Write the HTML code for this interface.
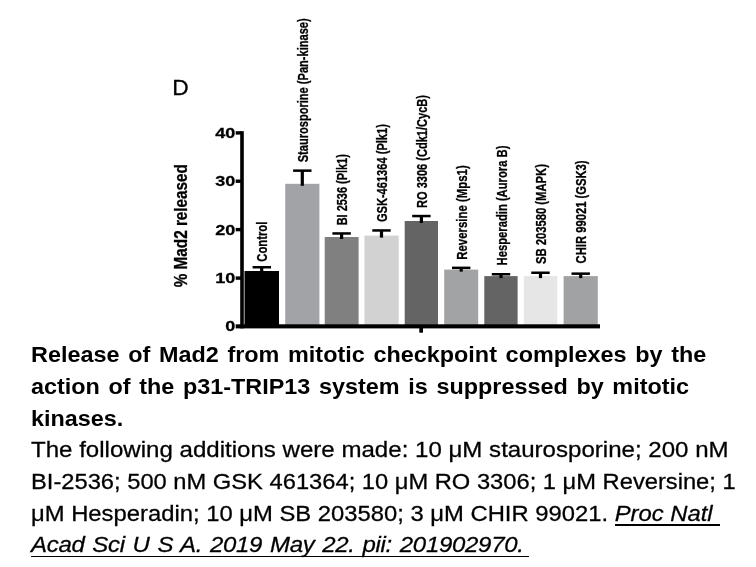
<!DOCTYPE html>
<html><head><meta charset="utf-8"><title>Mad2 release</title>
<style>
html,body{margin:0;padding:0;background:#fff;}
body{width:756px;height:567px;position:relative;overflow:hidden;font-family:"Liberation Sans",Arial,sans-serif;color:#000;}
.l{position:absolute;left:31px;white-space:nowrap;font-size:24px;line-height:30px;height:30px;transform-origin:0 0;transform:scale(1,0.93);}
.b{font-weight:bold;font-size:23.4px;word-spacing:2.2px;transform:scale(1,0.935);}
.r{-webkit-text-stroke:0.3px #000;}
.u{font-style:italic;}
.ul{position:absolute;height:1.8px;background:#000;}
</style></head><body>
<svg width="756" height="340" viewBox="0 0 756 340" style="position:absolute;left:0;top:0" font-family="'Liberation Sans', Arial, sans-serif">
<rect x="244.5" y="271.0" width="34.5" height="56.4" fill="#000000"/>
<rect x="260.1" y="267.0" width="3.2" height="6.0" fill="#000"/>
<rect x="252.6" y="266.0" width="18.4" height="2.5" fill="#000"/>
<rect x="285.2" y="183.8" width="34.2" height="143.6" fill="#a1a3a6"/>
<rect x="300.7" y="170.4" width="3.2" height="15.4" fill="#000"/>
<rect x="293.1" y="169.4" width="18.4" height="2.5" fill="#000"/>
<rect x="324.7" y="237.0" width="33.9" height="90.4" fill="#808080"/>
<rect x="340.0" y="233.2" width="3.2" height="5.8" fill="#000"/>
<rect x="332.4" y="232.2" width="18.4" height="2.5" fill="#000"/>
<rect x="364.4" y="235.6" width="34.3" height="91.8" fill="#d2d2d2"/>
<rect x="379.9" y="230.2" width="3.2" height="7.4" fill="#000"/>
<rect x="372.3" y="229.2" width="18.4" height="2.5" fill="#000"/>
<rect x="404.7" y="221.0" width="33.3" height="106.4" fill="#646464"/>
<rect x="419.8" y="215.8" width="3.2" height="7.2" fill="#000"/>
<rect x="412.2" y="214.8" width="18.4" height="2.5" fill="#000"/>
<rect x="444.2" y="269.6" width="34.0" height="57.8" fill="#a1a3a5"/>
<rect x="459.6" y="267.6" width="3.2" height="4.0" fill="#000"/>
<rect x="452.0" y="266.6" width="18.4" height="2.5" fill="#000"/>
<rect x="484.3" y="276.1" width="33.3" height="51.3" fill="#646464"/>
<rect x="499.4" y="274.0" width="3.2" height="4.1" fill="#000"/>
<rect x="491.8" y="273.0" width="18.4" height="2.5" fill="#000"/>
<rect x="523.8" y="276.1" width="33.5" height="51.3" fill="#e6e6e6"/>
<rect x="538.9" y="272.5" width="3.2" height="5.6" fill="#000"/>
<rect x="531.3" y="271.5" width="18.4" height="2.5" fill="#000"/>
<rect x="563.6" y="276.1" width="34.2" height="51.3" fill="#a0a2a4"/>
<rect x="579.1" y="273.4" width="3.2" height="4.7" fill="#000"/>
<rect x="571.5" y="272.4" width="18.4" height="2.5" fill="#000"/>
<rect x="240.2" y="131.2" width="3.6" height="197.2" fill="#000"/>
<rect x="235.7" y="324.3" width="364.3" height="4.1" fill="#000"/>
<rect x="419.3" y="327.4" width="3.7" height="5.3" fill="#000"/>
<rect x="235.7" y="131.2" width="6" height="3.4" fill="#000"/>
<text transform="translate(235.3 137.8) scale(1.31 1)" text-anchor="end" font-weight="bold" font-size="13.8" stroke="#000" stroke-width="0.25">40</text>
<rect x="235.7" y="179.5" width="6" height="3.4" fill="#000"/>
<text transform="translate(235.3 186.1) scale(1.31 1)" text-anchor="end" font-weight="bold" font-size="13.8" stroke="#000" stroke-width="0.25">30</text>
<rect x="235.7" y="227.9" width="6" height="3.4" fill="#000"/>
<text transform="translate(235.3 234.5) scale(1.31 1)" text-anchor="end" font-weight="bold" font-size="13.8" stroke="#000" stroke-width="0.25">20</text>
<rect x="235.7" y="276.4" width="6" height="3.4" fill="#000"/>
<text transform="translate(235.3 283.0) scale(1.31 1)" text-anchor="end" font-weight="bold" font-size="13.8" stroke="#000" stroke-width="0.25">10</text>
<text transform="translate(235.3 331.3) scale(1.31 1)" text-anchor="end" font-weight="bold" font-size="13.8" stroke="#000" stroke-width="0.25">0</text>
<text transform="translate(267.2 261.7) rotate(-90)" font-weight="bold" font-size="15" textLength="40.1" lengthAdjust="spacingAndGlyphs" stroke="#000" stroke-width="0.3">Control</text>
<text transform="translate(307.8 162.3) rotate(-90)" font-weight="bold" font-size="15" textLength="144.0" lengthAdjust="spacingAndGlyphs" stroke="#000" stroke-width="0.3">Staurosporine (Pan-kinase)</text>
<text transform="translate(347.1 225.3) rotate(-90)" font-weight="bold" font-size="15" textLength="71.1" lengthAdjust="spacingAndGlyphs" stroke="#000" stroke-width="0.3">BI 2536 (Plk1)</text>
<text transform="translate(387.0 222.1) rotate(-90)" font-weight="bold" font-size="15" textLength="98.0" lengthAdjust="spacingAndGlyphs" stroke="#000" stroke-width="0.3">GSK-461364 (Plk1)</text>
<text transform="translate(426.9 208.0) rotate(-90)" font-weight="bold" font-size="15" textLength="113.0" lengthAdjust="spacingAndGlyphs" stroke="#000" stroke-width="0.3">RO 3306 (Cdk1/CycB)</text>
<text transform="translate(466.7 259.7) rotate(-90)" font-weight="bold" font-size="15" textLength="94.4" lengthAdjust="spacingAndGlyphs" stroke="#000" stroke-width="0.3">Reversine (Mps1)</text>
<text transform="translate(506.5 265.4) rotate(-90)" font-weight="bold" font-size="15" textLength="119.8" lengthAdjust="spacingAndGlyphs" stroke="#000" stroke-width="0.3">Hesperadin (Aurora B)</text>
<text transform="translate(546.0 264.1) rotate(-90)" font-weight="bold" font-size="15" textLength="100.0" lengthAdjust="spacingAndGlyphs" stroke="#000" stroke-width="0.3">SB 203580 (MAPK)</text>
<text transform="translate(586.2 263.4) rotate(-90)" font-weight="bold" font-size="15" textLength="103.0" lengthAdjust="spacingAndGlyphs" stroke="#000" stroke-width="0.3">CHIR 99021 (GSK3)</text>
<text transform="translate(187.3 287.3) rotate(-90) scale(0.832 1)" font-weight="bold" font-size="18.4" stroke="#000" stroke-width="0.3">% Mad2 released</text>
<text x="172.3" y="95.1" font-size="22.8" stroke="#000" stroke-width="0.3">D</text>
</svg>
<div class="l b" style="top:339.6px">Release of Mad2 from mitotic checkpoint complexes by the</div>
<div class="l b" style="top:371.6px;word-spacing:2.15px">action of the p31-TRIP13 system is suppressed by mitotic</div>
<div class="l b" style="top:403.6px">kinases.</div>
<div class="l r" style="top:435.7px;transform:scale(1.003,0.93)">The following additions were made: 10 μM staurosporine; 200 nM</div>
<div class="l r" style="top:467.9px;transform:scale(0.9878,0.93)">BI-2536; 500 nM GSK 461364; 10 μM RO 3306; 1 μM Reversine; 1</div>
<div class="l r" style="top:500px;transform:scale(0.992,0.93)">μM Hesperadin; 10 μM SB 203580; 3 μM CHIR 99021. <span class="u">Proc Natl&nbsp;</span></div>
<div class="l r" style="top:531.1px"><span class="u" style="letter-spacing:-0.3px;word-spacing:1.45px">Acad Sci U S A. 2019 May 22. pii: 201902970.&nbsp;</span></div>
<div class="ul" style="left:614.6px;top:523.8px;width:105.2px"></div>
<div class="ul" style="left:31px;top:555.6px;width:498.4px"></div>
</body></html>
